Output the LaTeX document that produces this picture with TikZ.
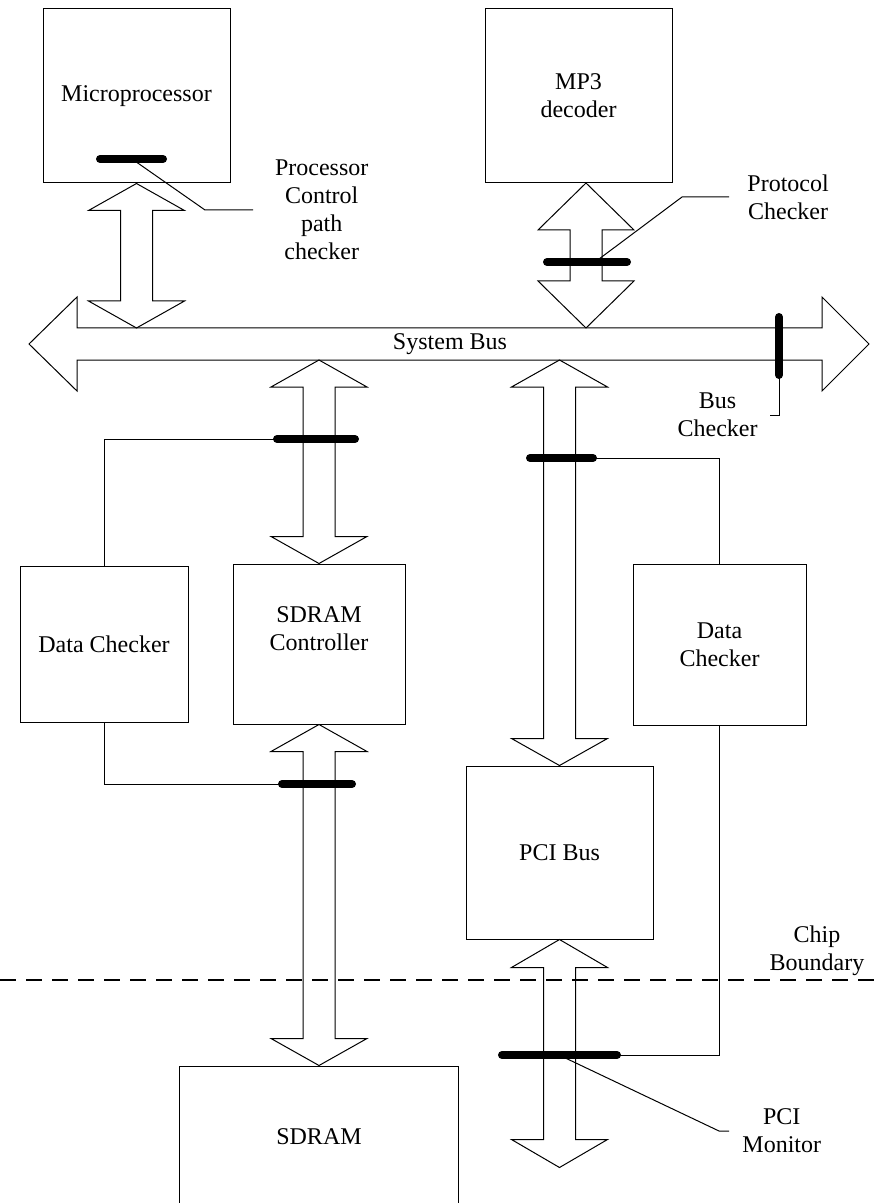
\documentclass[tikz,border=0pt]{standalone}
\usepackage{fontspec}
\setmainfont{Liberation Serif}
\usetikzlibrary{positioning,calc}

% double headed block arrow: top tip, bottom tip, head length
\newcommand{\dblarrow}[3]{%
  \draw[blk] (#1) -- ($(#1)+(48,#3)$) -- ($(#1)+(16,#3)$) -- ($(#2)+(16,-#3)$)
    -- ($(#2)+(48,-#3)$) -- (#2) -- ($(#2)+(-48,-#3)$) -- ($(#2)+(-16,-#3)$)
    -- ($(#1)+(-16,#3)$) -- ($(#1)+(-48,#3)$) -- cycle;}

\begin{document}
\begin{tikzpicture}[
    x=0.5pt, y=-0.5pt, node distance=20pt,
    st/.style={draw,line width=0.5pt,inner sep=0pt,align=center,font=\fontsize{12}{14}\selectfont},
    lbl/.style={align=center,font=\fontsize{12}{14}\selectfont},
    chk/.style={line width=4pt,line cap=round},
    ldr/.style={line width=0.5pt},
    blk/.style={line width=0.5pt,line join=miter},
    cb/.style={line width=1pt,dash pattern=on 8pt off 5pt},
  ]
  \useasboundingbox (0,0) rectangle (881,1203);
  % blocks
  \node[st,minimum width=93.5pt,minimum height=87pt] (micro) at (136.5,96) {Microprocessor};
  \node[st,minimum width=93.5pt,minimum height=87pt,right=127pt of micro] (mp3) {MP3\\decoder};
  \node[st,minimum width=84pt,minimum height=78pt] (dcl) at (104,644) {Data Checker};
  \node[st,minimum width=86pt,minimum height=80pt,right=22pt of dcl,
        label={[lbl,yshift=7.5pt]center:SDRAM\\Controller}] (ctrl) {};
  \node[st,minimum width=86.5pt,minimum height=80.5pt] (dcr) at (719.5,644.5) {Data\\Checker};
  \node[st,minimum width=93.5pt,minimum height=86.5pt] (pci) at (559.5,852.5) {PCI Bus};
  \node[st,minimum width=139.5pt,minimum height=71pt,below=170.5pt of ctrl] (sdram) {SDRAM};

  % system bus
  \coordinate (busl) at (29,344);
  \coordinate (busr) at (869,344);
  \coordinate (bustop) at (0,328);
  \coordinate (busbot) at (0,360);
  \draw[blk] (busl) -- ++(48,-47) -- ++(0,31) -- ++(745,0) -- ++(0,-31) -- (busr)
    -- ++(-47,47) -- ++(0,-31) -- ++(-745,0) -- ++(0,31) -- cycle;
  \node[lbl] (sysbus) at (450,344) {System Bus};

  % block arrows
  \coordinate (a1b) at (micro.south |- bustop);
  \coordinate (a2t) at (586,183);
  \coordinate (a2b) at (a2t |- bustop);
  \coordinate (a3t) at (ctrl.north |- busbot);
  \coordinate (a5t) at (pci.north |- busbot);
  \coordinate (a6b) at ($(pci.south)+(0,228)$);
  \dblarrow{micro.south}{a1b}{27}
  \dblarrow{a2t}{a2b}{47}
  \dblarrow{a3t}{ctrl.north}{27}
  \dblarrow{ctrl.south}{sdram.north}{27}
  \dblarrow{a5t}{pci.north}{27}
  \dblarrow{pci.south}{a6b}{28}

  % chip boundary
  \coordinate (cbl) at (0,980);
  \coordinate (cbr) at (881,980);
  \draw[cb] (cbl) -- (cbr);
  \node[lbl] (chip) at (817,951) {Chip\\Boundary};

  % processor control path checker
  \coordinate (pc) at (132,159);
  \draw[ldr] (pc) -- (205,210) -- (253,210) coordinate (pcend);
  \draw[chk] ($(pc)+(-32,0)$) -- ($(pc)+(31,0)$);
  \node[lbl,right=7.5pt of pcend] (pclbl) {Processor\\Control\\path\\checker};

  % protocol checker
  \coordinate (pr) at (595,262);
  \draw[ldr] (pr) -- (682,197) -- (729,197) coordinate (prend);
  \draw[chk] (547,262) -- (627,262);
  \node[lbl,right=5.7pt of prend] (prlbl) {Protocol\\Checker};

  % bus checker
  \coordinate (bc) at (779,375);
  \draw[ldr] (bc) -- (779,415) -- (770,415) coordinate (bcend);
  \draw[chk] (779,317) -- (bc);
  \node[lbl,left=2.7pt of bcend] (bclbl) {Bus\\Checker};

  % data checkers
  \coordinate (dctl) at (277,439);
  \coordinate (dcbl) at (282,784);
  \coordinate (dctr) at (593,458);
  \draw[ldr] (dcl.north) |- (dctl);
  \draw[ldr] (dcl.south) |- (dcbl);
  \draw[ldr] (dcr.north) |- (dctr);
  \draw[chk] (dctl) -- ++(78,0);
  \draw[chk] (dcbl) -- ++(70,0);
  \draw[chk] (dctr) -- ++(-63,0);

  % pci monitor
  \coordinate (pm) at (559,1055);
  \coordinate (pmr) at (617,1055);
  \draw[ldr] (dcr.south) |- (pmr);
  \draw[ldr] (pm) -- (719,1131) -- (729,1131) coordinate (pmend);
  \draw[chk] (502,1055) -- (pmr);
  \node[lbl,right=3.2pt of pmend] (pmlbl) {PCI\\Monitor};
\end{tikzpicture}
\end{document}
